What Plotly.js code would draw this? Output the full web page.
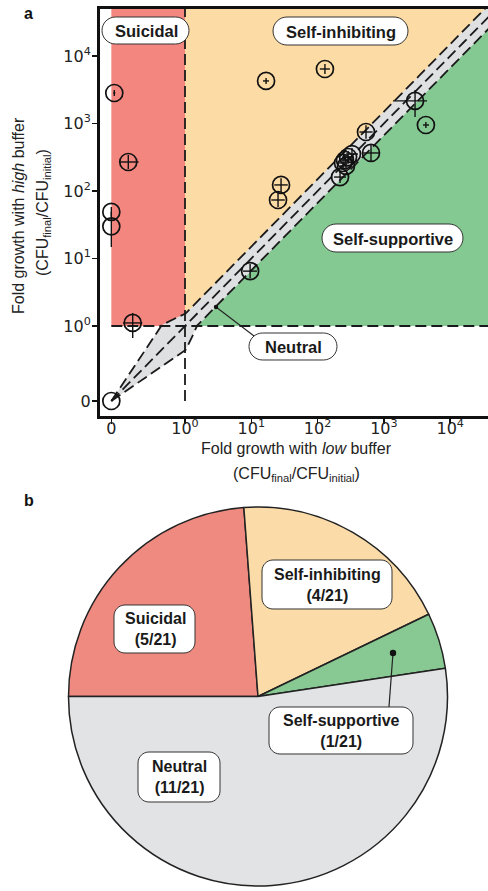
<!DOCTYPE html>
<html><head><meta charset="utf-8">
<script src="https://cdn.plot.ly/plotly-3.0.1.min.js"></script>
<style>html,body{margin:0;padding:0;background:#fff;} #chart{width:488px;height:891px;}</style>
</head><body><div id="chart"></div>
<script>
// ---------- Panel a data: fold growth (CFU_final / CFU_initial) ----------
const lowBuffer   = [0.04, 0.23, 0, 0, 0.29, 0, 9.6, 16.7, 129, 2950, 4300, 537, 639, 330, 288, 259, 242, 268, 218, 28.1, 25.3];
const highBuffer  = [2830, 269, 49, 30, 1.11, 0, 6.5, 4270, 6420, 2160, 950, 748, 366, 353, 319, 288, 260, 235, 161, 123, 73.6];
// error bar ends (low .. high)
const lowBarLo    = [0.026, 0.11, 0, 0, 0.16, 0, 7.5, 15.0, 108, 1370, 3890, 427, 485, 268, 234, 211, 197, 218, 177, 22.2, 20];
const lowBarHi    = [0.054, 0.37, 0, 0, 0.42, 0, 12.2, 18.5, 153, 4470, 4790, 676, 842, 406, 354, 319, 298, 330, 268, 35.5, 32];
const highBarLo   = [2560, 212, 41.6, 14.8, 0.84, 0, 5.1, 3860, 5410, 1250, 858, 594, 277, 287, 259, 234, 211, 191, 131, 97, 58];
const highBarHi   = [3130, 342, 58, 48.9, 1.56, 0, 8.3, 4720, 7610, 3140, 1051, 942, 483, 434, 392, 354, 320, 289, 198, 155, 93];
const tickValues  = [0, 1, 10, 100, 1000, 10000];
const tickLabels  = ['0', '10<sup>0</sup>', '10<sup>1</sup>', '10<sup>2</sup>', '10<sup>3</sup>', '10<sup>4</sup>'];
const neutralBandFactor = 1.5;
const regionLabels = ['Suicidal', 'Self-inhibiting', 'Self-supportive', 'Neutral'];
const xTitle = ['Fold growth with <i>low</i> buffer', '(CFU<sub>final</sub>/CFU<sub>initial</sub>)'];
const yTitle = ['Fold growth with <i>high</i> buffer', '(CFU<sub>final</sub>/CFU<sub>initial</sub>)'];

// ---------- Panel b data ----------
const pieLabels = ['Suicidal', 'Self-inhibiting', 'Self-supportive', 'Neutral'];
const pieCounts = [5, 4, 1, 11];
const pieTotal  = 21;

// symmetric-log scale (linear below 1, log above), as in matplotlib symlog
const LIN = 1 / 0.9;
function u(v) { return v < 1 ? (v - 1) * LIN : Math.log10(v); }
function uinv(t) { return t < 0 ? 1 + t / LIN : Math.pow(10, t); }

const W = 488, H = 891;
const PX = p => p / W, PY = p => 1 - p / H;

const ux = lowBuffer.map(u), uy = highBuffer.map(u);
const exPlus  = lowBuffer.map((v, i) => u(lowBarHi[i]) - u(v));
const exMinus = lowBuffer.map((v, i) => u(v) - u(lowBarLo[i]));
const eyPlus  = highBuffer.map((v, i) => u(highBarHi[i]) - u(v));
const eyMinus = highBuffer.map((v, i) => u(v) - u(highBarLo[i]));

function refLine(m) {
  const xs = [], ys = [];
  for (let t = -LIN; t <= 5.6; t += 0.02) {
    const xv = uinv(t);
    xs.push(t); ys.push(u(m * xv));
  }
  return {xs, ys};
}
const up = refLine(neutralBandFactor), mid = refLine(1), lo = refLine(1 / neutralBandFactor);

const dashStyle = {color: '#1a1a1a', width: 1.8, dash: '11px,5px'};
const traces = [
  {x: up.xs.concat(lo.xs.slice().reverse()), y: up.ys.concat(lo.ys.slice().reverse()),
   type: 'scatter', mode: 'lines', fill: 'toself', fillcolor: '#DFE0E2', line: {width: 0}, hoverinfo: 'skip'},
  {x: up.xs, y: up.ys, type: 'scatter', mode: 'lines', line: dashStyle, hoverinfo: 'skip'},
  {x: mid.xs, y: mid.ys, type: 'scatter', mode: 'lines', line: dashStyle, hoverinfo: 'skip'},
  {x: lo.xs, y: lo.ys, type: 'scatter', mode: 'lines', line: dashStyle, hoverinfo: 'skip'},
  {x: [u(0), 6], y: [u(1), u(1)], type: 'scatter', mode: 'lines', line: dashStyle, hoverinfo: 'skip'},
  {x: [u(1), u(1)], y: [u(0), 6], type: 'scatter', mode: 'lines', line: dashStyle, hoverinfo: 'skip'},
  {x: ux, y: uy, type: 'scatter', mode: 'markers', cliponaxis: false,
   marker: {symbol: 'circle-open', size: 17, color: '#111', line: {width: 1.7, color: '#111'}},
   error_x: {type: 'data', symmetric: false, array: exPlus, arrayminus: exMinus, width: 0, thickness: 1.4, color: '#111'},
   error_y: {type: 'data', symmetric: false, array: eyPlus, arrayminus: eyMinus, width: 0, thickness: 1.4, color: '#111'},
   hoverinfo: 'skip'},
  {type: 'pie', labels: pieLabels, values: pieCounts, sort: false, direction: 'clockwise', rotation: -90,
   marker: {colors: ['#EF8A80', '#FBDCA8', '#88C892', '#E2E3E5'], line: {color: '#222', width: 1.5}},
   textinfo: 'none', hoverinfo: 'skip',
   domain: {x: [68 / W, 448 / W], y: [PY(886), PY(507)]}}
];

function rbox(x0, y0, x1, y1, r) {
  const k = 0.5523 * r;
  const X = p => PX(p).toFixed(5), Y = p => PY(p).toFixed(5);
  const path = `M${X(x0 + r)},${Y(y0)} L${X(x1 - r)},${Y(y0)} ` +
    `C${X(x1 - r + k)},${Y(y0)} ${X(x1)},${Y(y0 + r - k)} ${X(x1)},${Y(y0 + r)} ` +
    `L${X(x1)},${Y(y1 - r)} C${X(x1)},${Y(y1 - r + k)} ${X(x1 - r + k)},${Y(y1)} ${X(x1 - r)},${Y(y1)} ` +
    `L${X(x0 + r)},${Y(y1)} C${X(x0 + r - k)},${Y(y1)} ${X(x0)},${Y(y1 - r + k)} ${X(x0)},${Y(y1 - r)} ` +
    `L${X(x0)},${Y(y0 + r)} C${X(x0)},${Y(y0 + r - k)} ${X(x0 + r - k)},${Y(y0)} ${X(x0 + r)},${Y(y0)} Z`;
  return {type: 'path', xref: 'paper', yref: 'paper', path, fillcolor: '#fff', line: {color: '#333', width: 1}, layer: 'above'};
}
function leader(xa, ya, xb, yb) {
  return {type: 'line', xref: 'paper', yref: 'paper', x0: PX(xa), y0: PY(ya), x1: PX(xb), y1: PY(yb), line: {color: '#222', width: 1.2}, layer: 'above'};
}
function dot(cx, cy, r) {
  return {type: 'circle', xref: 'paper', yref: 'paper', x0: PX(cx - r), x1: PX(cx + r), y0: PY(cy + r), y1: PY(cy - r), fillcolor: '#111', line: {width: 0}, layer: 'above'};
}

const shapes = [
  {type: 'rect', xref: 'x', yref: 'y', x0: u(0), x1: u(1), y0: u(1), y1: 6, fillcolor: '#F3877F', line: {width: 0}, layer: 'below'},
  {type: 'path', xref: 'x', yref: 'y', path: `M0,0 L0,6 L6,6 Z`, fillcolor: '#FDDBA4', line: {width: 0}, layer: 'below'},
  {type: 'path', xref: 'x', yref: 'y', path: `M0,0 L6,6 L6,0 Z`, fillcolor: '#84C992', line: {width: 0}, layer: 'below'},
  // panel a labels
  rbox(102, 17, 189, 44, 13.5),
  rbox(273, 17, 408, 45, 14),
  rbox(322, 224, 463, 252, 14),
  leader(216, 307, 262, 342), dot(216, 307, 2.2),
  rbox(249, 333, 337, 360, 13.5),
  // panel b labels
  rbox(114, 605, 195, 653, 11),
  rbox(262, 560, 392, 609, 11),
  leader(393, 653, 388, 720), dot(393, 653, 3.2),
  rbox(269, 707, 413, 754, 11),
  rbox(138, 752, 220, 802, 11)
];

const FAM = 'Liberation Sans, Arial, sans-serif';
const aFont = {family: FAM, size: 16.5, color: '#1a1a1a'};
const bFont = {family: FAM, size: 16, color: '#1a1a1a'};
const titleFont = {family: FAM, size: 16, color: '#222'};
function note(text, cx, cy, font, angle) {
  return {text, xref: 'paper', yref: 'paper', x: PX(cx), y: PY(cy), xanchor: 'center', yanchor: 'middle',
          showarrow: false, font: font, textangle: angle || 0};
}
const pct = pieCounts.map(c => `(${c}/${pieTotal})`);
const annotations = [
  note('<b>a</b>', 28, 13, {family: FAM, size: 16, color: '#111'}),
  note('<b>b</b>', 29, 500, {family: FAM, size: 16, color: '#111'}),
  note(`<b>${regionLabels[0]}</b>`, 146, 31, aFont),
  note(`<b>${regionLabels[1]}</b>`, 341, 32, aFont),
  note(`<b>${regionLabels[2]}</b>`, 393, 239, aFont),
  note(`<b>${regionLabels[3]}</b>`, 293, 347, aFont),
  note(`<b>${pieLabels[0]}<br>${pct[0]}</b>`, 155, 629, bFont),
  note(`<b>${pieLabels[1]}<br>${pct[1]}</b>`, 327, 585, bFont),
  note(`<b>${pieLabels[2]}<br>${pct[2]}</b>`, 341, 731, bFont),
  note(`<b>${pieLabels[3]}<br>${pct[3]}</b>`, 179, 777, bFont),
  // axis titles
  note(xTitle[0], 296, 448, titleFont),
  note(xTitle[1], 296, 474, titleFont),
  note(yTitle[0], 18, 216, titleFont, -90),
  note(yTitle[1], 43, 213, titleFont, -90)
];

const tickFont = {family: 'DejaVu Sans, sans-serif', size: 16, color: '#222'};
const layout = {
  width: W, height: H, margin: {l: 0, r: 0, t: 0, b: 0},
  paper_bgcolor: '#fff', plot_bgcolor: '#fff', showlegend: false, hovermode: false,
  xaxis: {domain: [100 / W, 1], range: [(100 - 185) / 66.3, (488 - 185) / 66.3], tickmode: 'array',
    tickvals: tickValues.map(u), ticktext: tickLabels, ticks: 'outside', ticklen: 5, tickwidth: 1.5, tickcolor: '#111',
    tickfont: tickFont, ticklabelstandoff: -9, showgrid: false, zeroline: false, showline: true, linewidth: 3, linecolor: '#111', mirror: true,
    automargin: false, fixedrange: true},
  yaxis: {domain: [PY(416), PY(9)], range: [(326 - 416) / 67.5, (326 - 9) / 67.5], tickmode: 'array',
    tickvals: tickValues.map(u), ticktext: tickLabels, ticks: 'outside', ticklen: 5, tickwidth: 1.5, tickcolor: '#111',
    tickfont: tickFont, ticklabelstandoff: -2, showgrid: false, zeroline: false, showline: true, linewidth: 3, linecolor: '#111', mirror: false,
    automargin: false, fixedrange: true},
  shapes, annotations
};
Plotly.newPlot('chart', traces, layout, {displayModeBar: false, staticPlot: true});
</script></body></html>
